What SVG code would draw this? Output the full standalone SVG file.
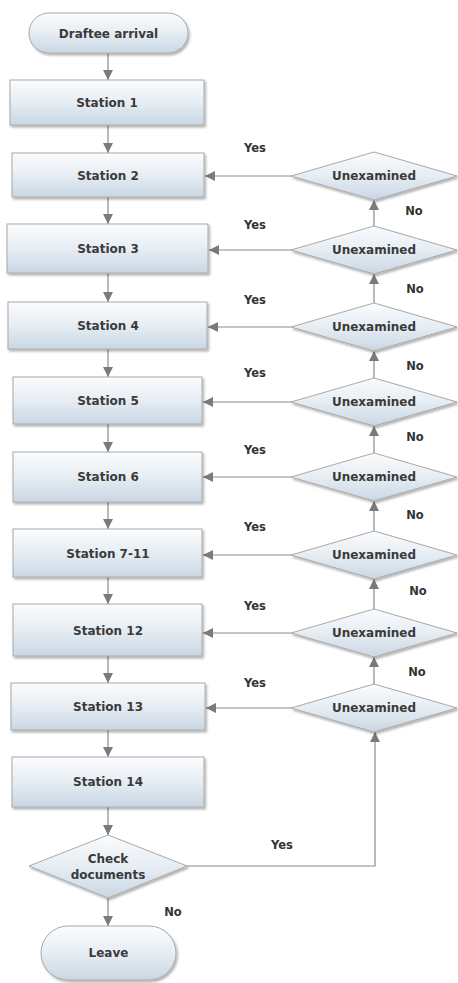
<svg xmlns="http://www.w3.org/2000/svg" width="458" height="983" viewBox="0 0 458 983">
<style>
.n{fill:url(#g);stroke:#a8a8a8;stroke-width:1;filter:url(#sh)}
.t{font-family:"DejaVu Sans",Verdana,sans-serif;font-weight:bold;font-size:12px;fill:#3a3a3a;text-anchor:middle}
.l{font-family:"DejaVu Sans",Verdana,sans-serif;font-weight:bold;font-size:11.5px;fill:#333;text-anchor:middle}
.c{fill:none;stroke:#8a8a8a;stroke-width:1.2;marker-end:url(#a)}
</style>
<defs>
<linearGradient id="g" x1="0" y1="0" x2="0" y2="1">
<stop offset="0" stop-color="#fbfcfd"/>
<stop offset="0.5" stop-color="#e6edf3"/>
<stop offset="1" stop-color="#c9d7e4"/>
</linearGradient>
<filter id="sh" x="-10%" y="-10%" width="130%" height="140%">
<feDropShadow dx="1.5" dy="2" stdDeviation="1.2" flood-color="#000" flood-opacity="0.3"/>
</filter>
<marker id="a" markerUnits="userSpaceOnUse" markerWidth="10" markerHeight="10" refX="10" refY="5" orient="auto">
<path d="M0,0 L10,5 L0,10 z" fill="#7a7a7a"/>
</marker>
</defs>
<g id="connectors">
<line class="c" x1="108" y1="53" x2="108" y2="80"/>
<line class="c" x1="108" y1="125" x2="108" y2="153"/>
<line class="c" x1="108" y1="197" x2="108" y2="224"/>
<line class="c" x1="108" y1="273" x2="108" y2="302"/>
<line class="c" x1="108" y1="349" x2="108" y2="377"/>
<line class="c" x1="108" y1="424" x2="108" y2="452"/>
<line class="c" x1="108" y1="502" x2="108" y2="529"/>
<line class="c" x1="108" y1="577" x2="108" y2="604"/>
<line class="c" x1="108" y1="656" x2="108" y2="683"/>
<line class="c" x1="108" y1="730" x2="108" y2="757"/>
<line class="c" x1="108" y1="807" x2="108" y2="835"/>
<line class="c" x1="108" y1="898" x2="108" y2="926"/>
<line class="c" x1="291" y1="176" x2="205" y2="176"/>
<line class="c" x1="291" y1="250" x2="209" y2="250"/>
<line class="c" x1="291" y1="327" x2="208" y2="327"/>
<line class="c" x1="291" y1="402" x2="203" y2="402"/>
<line class="c" x1="291" y1="477" x2="203" y2="477"/>
<line class="c" x1="291" y1="555" x2="203" y2="555"/>
<line class="c" x1="291" y1="633" x2="203" y2="633"/>
<line class="c" x1="291" y1="708" x2="206" y2="708"/>
<line class="c" x1="374" y1="226" x2="374" y2="200"/>
<line class="c" x1="374" y1="303" x2="374" y2="274"/>
<line class="c" x1="374" y1="378" x2="374" y2="351"/>
<line class="c" x1="374" y1="453" x2="374" y2="426"/>
<line class="c" x1="374" y1="531" x2="374" y2="501"/>
<line class="c" x1="374" y1="609" x2="374" y2="579"/>
<line class="c" x1="374" y1="684" x2="374" y2="657"/>
<polyline class="c" points="187,866 375,866 375,732"/>
<text class="l" x="255" y="152">Yes</text>
<text class="l" x="255" y="229">Yes</text>
<text class="l" x="255" y="304">Yes</text>
<text class="l" x="255" y="377">Yes</text>
<text class="l" x="255" y="454">Yes</text>
<text class="l" x="255" y="531">Yes</text>
<text class="l" x="255" y="610">Yes</text>
<text class="l" x="255" y="687">Yes</text>
<text class="l" x="282" y="849">Yes</text>
<text class="l" x="414" y="215">No</text>
<text class="l" x="415" y="293">No</text>
<text class="l" x="415" y="370">No</text>
<text class="l" x="415" y="441">No</text>
<text class="l" x="415" y="519">No</text>
<text class="l" x="418" y="595">No</text>
<text class="l" x="417" y="676">No</text>
<text class="l" x="173" y="916">No</text>
</g>
<g id="start"><rect class="n" x="29" y="13" width="159" height="40" rx="20"/><text class="t" x="108.5" y="37.5">Draftee arrival</text></g>
<g id="s1"><rect class="n" x="10" y="80" width="194" height="45"/><text class="t" x="107" y="107">Station 1</text></g>
<g id="s2"><rect class="n" x="12" y="153" width="192" height="44"/><text class="t" x="108" y="179.5">Station 2</text></g>
<g id="s3"><rect class="n" x="7" y="224" width="201" height="49"/><text class="t" x="108" y="253">Station 3</text></g>
<g id="s4"><rect class="n" x="8" y="302" width="199" height="47"/><text class="t" x="108" y="330">Station 4</text></g>
<g id="s5"><rect class="n" x="13" y="377" width="189" height="47"/><text class="t" x="108" y="405">Station 5</text></g>
<g id="s6"><rect class="n" x="13" y="452" width="189" height="50"/><text class="t" x="108" y="481">Station 6</text></g>
<g id="s7"><rect class="n" x="13" y="529" width="189" height="48"/><text class="t" x="108" y="557.5">Station 7-11</text></g>
<g id="s12"><rect class="n" x="13" y="604" width="189" height="52"/><text class="t" x="108" y="635">Station 12</text></g>
<g id="s13"><rect class="n" x="11" y="683" width="194" height="47"/><text class="t" x="108" y="711">Station 13</text></g>
<g id="s14"><rect class="n" x="12" y="757" width="192" height="50"/><text class="t" x="108" y="786">Station 14</text></g>
<g id="check"><polygon class="n" points="29,866 108,835 187,866 108,898"/><text class="t" x="108" y="863">Check</text><text class="t" x="108" y="879">documents</text></g>
<g id="leave"><rect class="n" x="41" y="926" width="135" height="54" rx="27"/><text class="t" x="108.5" y="957">Leave</text></g>
<g id="u2"><polygon class="n" points="291,176 374,152 457,176 374,200"/><text class="t" x="374" y="180">Unexamined</text></g>
<g id="u3"><polygon class="n" points="291,250 374,226 457,250 374,274"/><text class="t" x="374" y="254">Unexamined</text></g>
<g id="u4"><polygon class="n" points="291,327 374,303 457,327 374,351"/><text class="t" x="374" y="331">Unexamined</text></g>
<g id="u5"><polygon class="n" points="291,402 374,378 457,402 374,426"/><text class="t" x="374" y="406">Unexamined</text></g>
<g id="u6"><polygon class="n" points="291,477 374,453 457,477 374,501"/><text class="t" x="374" y="481">Unexamined</text></g>
<g id="u7"><polygon class="n" points="291,555 374,531 457,555 374,579"/><text class="t" x="374" y="559">Unexamined</text></g>
<g id="u12"><polygon class="n" points="291,633 374,609 457,633 374,657"/><text class="t" x="374" y="637">Unexamined</text></g>
<g id="u13"><polygon class="n" points="291,708 374,684 457,708 374,732"/><text class="t" x="374" y="712">Unexamined</text></g>
</svg>
